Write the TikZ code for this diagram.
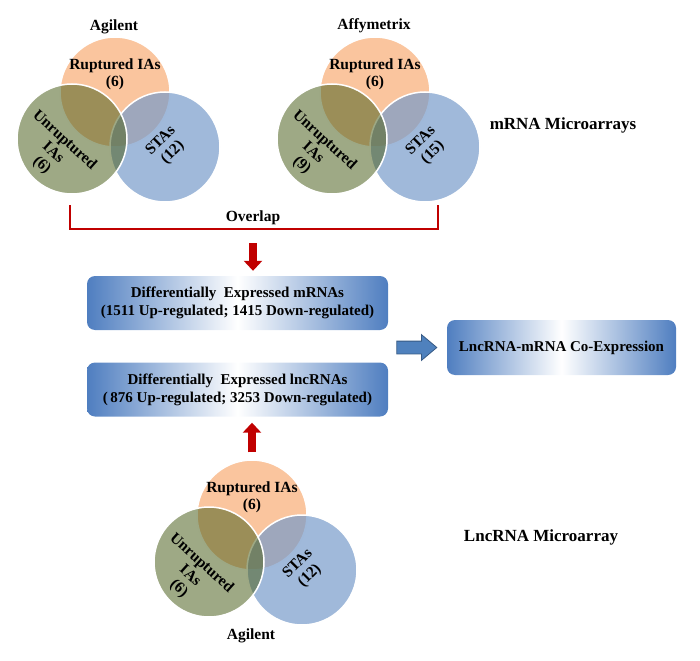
\documentclass[tikz,border=0pt]{standalone}
\usepackage{fontspec}
\setmainfont{Liberation Serif}
\usepackage{xcolor}
\usetikzlibrary{arrows.meta,shapes.arrows}

\definecolor{rupcol}{HTML}{FAC59E}
\definecolor{unrcol}{HTML}{4E6220}
\definecolor{stacol}{HTML}{779BCA}
\definecolor{boxblue}{HTML}{4F7EC0}
\definecolor{arrblue}{HTML}{4F81BD}
\definecolor{arrred}{HTML}{C00000}

\begin{document}
\begin{tikzpicture}[x=1pt, y=-1pt,
    vlabel/.style={align=center, inner sep=0pt, font=\bfseries\fontsize{15.5}{17}\selectfont},
    sidelabel/.style={inner sep=0pt, font=\bfseries\fontsize{17}{19}\selectfont},
    setcircle/.style={circle, minimum size=110pt, inner sep=0pt, draw=white, line width=1.5pt},
    databox/.style={rounded corners=8pt, left color=boxblue, right color=boxblue, middle color=white,
        align=center, inner sep=0pt, minimum height=54pt, font=\bfseries\fontsize{15}{18}\selectfont},
    redarrow/.style={draw=arrred, line width=7.5pt, -{Triangle[width=18pt,length=10pt]}},
    ]
    \useasboundingbox (0,0) rectangle (700,660);

    % three Venn diagrams
    \foreach \vx/\vy/\i/\src/\srcy/\nu/\ns in {0/0/1/Agilent/27/6/12, 260/0/2/Affymetrix/26/9/15, 137/423/3/Agilent/213/6/12}
    {
        \begin{scope}[shift={(\vx,\vy)}]
            \node[setcircle, fill=rupcol] (rup\i) at (115,92) {};
            \node[setcircle, fill=stacol, fill opacity=0.7] (sta\i) at (165,147) {};
            \node[setcircle, fill=unrcol, fill opacity=0.55] (unr\i) at (72,139) {};
            \node[vlabel] (rupt\i) at (115,74) {Ruptured IAs\\(6)};
            \node[vlabel, rotate=-42] (unrt\i) at (53,153) {Unruptured\\IAs\\(\nu)};
            \node[vlabel, rotate=45] (stat\i) at (167,147) {STAs\\(\ns)};
            \node[vlabel] (src\i) at (114,\srcy) {\src};
        \end{scope}
    }

    \node[sidelabel] (mrnalab) at (563,125) {mRNA Microarrays};
    \node[sidelabel] (lnclab) at (541,537) {LncRNA Microarray};

    % overlap bracket
    \coordinate (brL) at (70,205);
    \coordinate (brR) at (438,205);
    \draw[arrred, line width=2.5pt] (brL) -- ++(0,24) -| (brR);
    \node[vlabel] (ovl) at (253,218) {Overlap};

    % result boxes
    \node[databox, minimum width=301pt] (mrna) at (237.5,303) {Differentially~ Expressed mRNAs\\(1511 Up-regulated; 1415 Down-regulated)};
    \node[databox, minimum width=301pt] (lnc) at (237.5,389.5) {Differentially~ Expressed lncRNAs\\(\,876 Up-regulated; 3253 Down-regulated)};
    \node[databox, minimum width=229pt, minimum height=55pt] (coexp) at (561.5,347.5) {LncRNA-mRNA Co-Expression};

    \coordinate (arrtop) at (253,243);
    \draw[redarrow, shorten >=5pt] (arrtop) -- (arrtop |- mrna.north);
    \draw[redarrow, shorten <=7pt, shorten >=6pt] (rup3.north) -- (rup3.north |- lnc.south);

    \node[single arrow, fill=arrblue, draw=arrblue!70!black, line width=0.8pt, inner xsep=0pt, inner ysep=6pt,
        minimum height=40pt, single arrow head extend=6.5pt,
        single arrow tip angle=80] (blockarr) at (413,347.5) {};
\end{tikzpicture}
\end{document}
